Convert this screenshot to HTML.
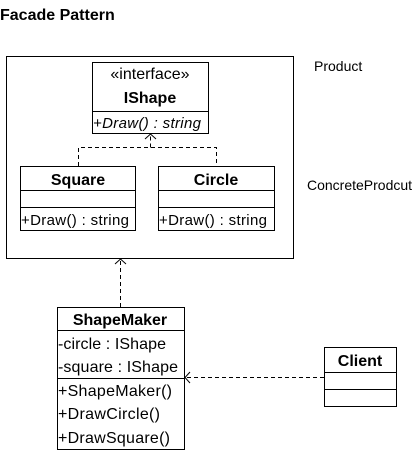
<!DOCTYPE html>
<html><head><style>
body{margin:0;background:#fff;}
svg text{font-family:"Liberation Sans",Arial,sans-serif;fill:#000;}
</style></head><body>
<svg width="418" height="450" viewBox="0 0 418 450" xmlns="http://www.w3.org/2000/svg">
<text x="0" y="20" font-size="16" font-weight="bold">Facade Pattern</text>
<text x="314" y="71" font-size="14">Product</text>
<text x="307" y="190" font-size="14">ConcreteProdcut</text>
<g fill="none" stroke="#000" stroke-width="1">
<rect x="6.5" y="56.5" width="287" height="202"/>
<rect x="92.5" y="62.5" width="116" height="71"/>
<line x1="92" y1="111.5" x2="208" y2="111.5"/>
<rect x="20.5" y="166.5" width="115" height="64"/>
<line x1="20" y1="190.5" x2="135" y2="190.5"/>
<line x1="20" y1="207.5" x2="135" y2="207.5"/>
<rect x="158.5" y="166.5" width="116" height="64"/>
<line x1="158" y1="190.5" x2="274" y2="190.5"/>
<line x1="158" y1="207.5" x2="274" y2="207.5"/>
<path d="M78.5 166V147.5H216.5V166M150.5 147.5V134" stroke-dasharray="4,3"/>
<path d="M145 139L150.5 134L156 139"/>
<line x1="120.5" y1="307" x2="120.5" y2="259" stroke-dasharray="4,3"/>
<path d="M115 264L120.5 259L126 264"/>
<rect x="57.5" y="307.5" width="127" height="142"/>
<line x1="57" y1="330.5" x2="184" y2="330.5"/>
<line x1="57" y1="378.5" x2="184" y2="378.5"/>
<rect x="324.5" y="347.5" width="72" height="59"/>
<line x1="324" y1="372.5" x2="396" y2="372.5"/>
<line x1="324" y1="389.5" x2="396" y2="389.5"/>
<line x1="324" y1="377.5" x2="185" y2="377.5" stroke-dasharray="4,3"/>
<path d="M190 372L185 377.5L190 383"/>
</g>
<text x="150" y="79" font-size="16" text-anchor="middle">«interface»</text>
<text x="150" y="103" font-size="16" font-weight="bold" text-anchor="middle">IShape</text>
<text x="93" y="128" font-size="15" font-style="italic" textLength="108">+Draw() : string</text>
<text x="78" y="185" font-size="16" font-weight="bold" text-anchor="middle">Square</text>
<text x="21" y="225" font-size="15" textLength="108">+Draw() : string</text>
<text x="216" y="185" font-size="16" font-weight="bold" text-anchor="middle">Circle</text>
<text x="159" y="225" font-size="15" textLength="108">+Draw() : string</text>
<text x="120" y="325" font-size="16" font-weight="bold" text-anchor="middle">ShapeMaker</text>
<text x="58" y="349" font-size="16" textLength="108">-circle : IShape</text>
<text x="58" y="372" font-size="16" textLength="120">-square : IShape</text>
<text x="58" y="396" font-size="16" textLength="114">+ShapeMaker()</text>
<text x="58" y="419" font-size="16" textLength="102">+DrawCircle()</text>
<text x="58" y="443" font-size="16" textLength="112">+DrawSquare()</text>
<text x="360" y="366" font-size="16" font-weight="bold" text-anchor="middle">Client</text>
</svg>
</body></html>
